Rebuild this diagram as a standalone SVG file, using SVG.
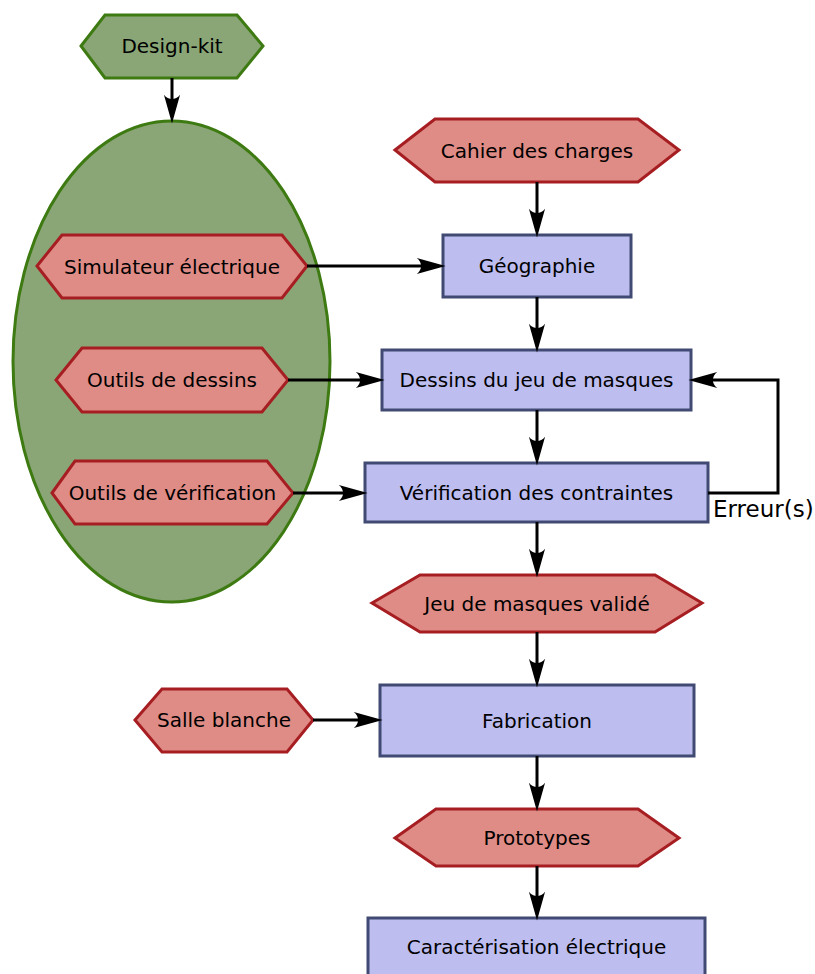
<svg xmlns="http://www.w3.org/2000/svg" width="815" height="974" viewBox="0 0 815 974">
<style>
text{font-family:"DejaVu Sans","Liberation Sans",sans-serif;font-size:20px;fill:#000;text-anchor:middle}
.hex{fill:#df8c86;stroke:#a61e22;stroke-width:3;stroke-linejoin:miter}
.box{fill:#bdbdf0;stroke:#404a72;stroke-width:3}
.green{fill:#8aa676;stroke:#3e7a12;stroke-width:3}
.conn path{fill:none;stroke:#000;stroke-width:3;marker-end:url(#arr)}
</style>
<defs>
<marker id="arr" markerUnits="userSpaceOnUse" orient="auto" refX="0" refY="0" markerWidth="30" markerHeight="20" viewBox="-8 -8 26 16" overflow="visible">
<path d="M17,0 L-8,-7 C-3,-3 -3,3 -8,7 Z" fill="#000"/>
</marker>
</defs>
<rect width="815" height="974" fill="#fff"/>
<g id="designkit">
<polygon class="green" points="81,46 105,15 237,15 263,46 237,78 105,78"/>
<text x="172" y="53">Design-kit</text>
</g>
<g id="designkit-ellipse">
<ellipse class="green" cx="171.5" cy="361.5" rx="158.5" ry="240.5"/>
</g>
<g id="simulateur">
<polygon class="hex" points="37,266 62,235 282,235 307,266 282,298 62,298"/>
<text x="172" y="273.5">Simulateur électrique</text>
</g>
<g id="outils-dessins">
<polygon class="hex" points="56,380 82,348 262,348 288,380 262,412 82,412"/>
<text x="172" y="387">Outils de dessins</text>
</g>
<g id="outils-verif">
<polygon class="hex" points="52,493 75,461 267,461 293,493 267,524 75,524"/>
<text x="172.5" y="499.5">Outils de vérification</text>
</g>
<g id="cahier">
<polygon class="hex" points="395,150 435,119 638,119 679,150 638,182 435,182"/>
<text x="537" y="157.5">Cahier des charges</text>
</g>
<g id="geographie">
<rect class="box" x="443" y="235" width="188" height="62"/>
<text x="537" y="273">Géographie</text>
</g>
<g id="dessins">
<rect class="box" x="382" y="350" width="309" height="60"/>
<text x="536.5" y="387">Dessins du jeu de masques</text>
</g>
<g id="verification">
<rect class="box" x="365" y="463" width="343" height="59"/>
<text x="536.5" y="499.5">Vérification des contraintes</text>
</g>
<g id="jeu-valide">
<polygon class="hex" points="372,603 420,575 655,575 702,603 655,632 420,632"/>
<text x="537" y="610.5">Jeu de masques validé</text>
</g>
<g id="salle-blanche">
<polygon class="hex" points="135,720 162,689 287,689 313,720 287,752 162,752"/>
<text x="224" y="727">Salle blanche</text>
</g>
<g id="fabrication">
<rect class="box" x="380" y="685" width="314" height="71"/>
<text x="537" y="727.5">Fabrication</text>
</g>
<g id="prototypes">
<polygon class="hex" points="395,838 436,809 638,809 679,838 638,866 436,866"/>
<text x="537" y="844.5">Prototypes</text>
</g>
<g id="caracterisation">
<rect class="box" x="368" y="918" width="337" height="62"/>
<text x="536.5" y="954">Caractérisation électrique</text>
</g>
<g class="conn" id="connectors">
<path d="M172,78 V104"/>
<path d="M537,182 V218"/>
<path d="M307,266 H426"/>
<path d="M288,380 H365"/>
<path d="M293,493 H348"/>
<path d="M537,297 V333"/>
<path d="M537,410 V446"/>
<path d="M537,522 V558"/>
<path d="M537,632 V668"/>
<path d="M313,720 H363"/>
<path d="M537,756 V792"/>
<path d="M537,866 V901"/>
<path d="M708,493 H778 V380 H708"/>
<text x="713" y="517" style="font-size:23px;text-anchor:start">Erreur(s)</text>
</g>
</svg>
